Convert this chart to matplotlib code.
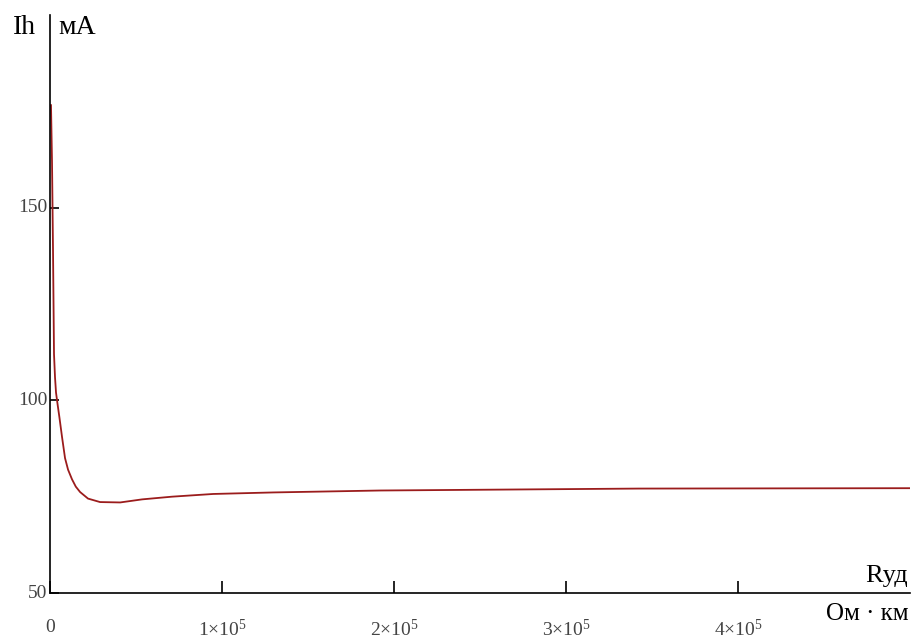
import matplotlib
matplotlib.use("Agg")
import matplotlib.pyplot as plt
from matplotlib.ticker import FixedLocator, FuncFormatter

plt.rcParams["font.family"] = ["Liberation Serif", "DejaVu Serif"]
plt.rcParams["mathtext.fontset"] = "custom"
plt.rcParams["mathtext.rm"] = "Liberation Serif"

# Specific resistance R (Ohm*km) vs current Ih (mA)
r_ud = [580, 1165, 1750, 2330, 2910, 3500, 4400, 5500, 6990, 8740, 10500,
        12800, 15000, 17500, 22100, 29100, 40800, 53600, 71000, 94900,
        130000, 192000, 342000, 500000]
ih = [176.6, 162.0, 139.0, 112.0, 106.0, 102.0, 99.0, 95.5, 90.5, 85.0, 82.0,
      79.5, 77.6, 76.2, 74.5, 73.6, 73.5, 74.3, 75.0, 75.7, 76.1, 76.6,
      77.1, 77.2]

x_ticks = [0, 1e5, 2e5, 3e5, 4e5]
y_ticks = [50, 100, 150]

fig = plt.figure(figsize=(9.2, 6.43), dpi=100)
ax = fig.add_axes([50 / 920, 50 / 643, 860 / 920, 578 / 643])

ax.plot(r_ud, ih, color="#9b1c1c", lw=1.3, solid_joinstyle="round")

ax.set_xlim(0, 5e5)
ax.set_ylim(50, 200)

for s in ("top", "right"):
    ax.spines[s].set_visible(False)
for s in ("left", "bottom"):
    ax.spines[s].set_linewidth(1.2)
    ax.spines[s].set_color("black")

def xfmt(v, pos):
    if v == 0:
        return "0"
    return r"$\mathregular{%d{\times}10^{5}}$" % round(v / 1e5)

ax.xaxis.set_major_locator(FixedLocator(x_ticks))
ax.xaxis.set_major_formatter(FuncFormatter(xfmt))
ax.yaxis.set_major_locator(FixedLocator(y_ticks))

ax.tick_params(axis="x", direction="in", length=8.5, width=1.2, pad=19,
               labelsize=14, labelcolor="#444444")
ax.tick_params(axis="y", direction="in", length=6.5, width=1.2, pad=2,
               labelsize=14, labelcolor="#444444")
for lab in ax.get_yticklabels():
    lab.set_verticalalignment("center")

# axis captions (Mathcad style)
fig.text(13 / 920, 1 - 28 / 643, "Ih", fontsize=20, va="center", ha="left")
fig.text(58 / 920, 1 - 28 / 643, "мА", fontsize=20, va="center", ha="left")
fig.text(908 / 920, 1 - 576 / 643, "Rуд", fontsize=19, va="center", ha="right")
fig.text(909 / 920, 1 - 614 / 643, "Ом · км", fontsize=18, va="center", ha="right")

fig.savefig("out.png", dpi=100, facecolor="white")
